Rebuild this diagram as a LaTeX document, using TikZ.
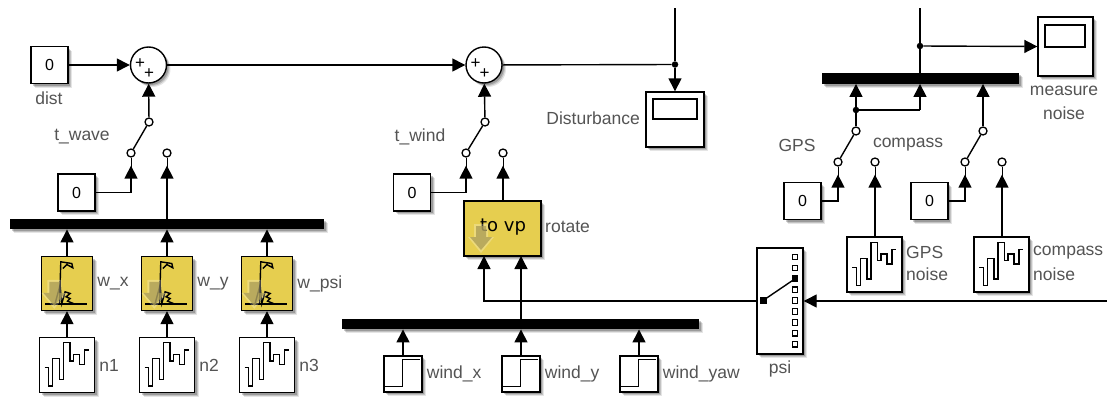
\documentclass[tikz,border=0pt]{standalone}
\usepackage{fontspec}
\setmainfont{Liberation Sans}
\newfontfamily\blockfont{DejaVu Sans}
\usetikzlibrary{arrows.meta,shadows}
\definecolor{labelgray}{gray}{0.33}
\definecolor{blockyellow}{HTML}{E6CE4F}
\definecolor{ghostkhaki}{HTML}{A89A55}
\tikzset{
  soft/.style={
    general shadow={shadow xshift=4pt,shadow yshift=-4pt,fill=black,opacity=.10},
    general shadow={shadow xshift=3pt,shadow yshift=-3pt,fill=black,opacity=.15},
    general shadow={shadow xshift=2pt,shadow yshift=-2pt,fill=black,opacity=.20}},
  blk/.style={draw=black,line width=1.4pt,fill=white,rectangle,inner sep=0pt,soft},
  const/.style={blk,minimum width=37pt,minimum height=37pt,font=\fontsize{16}{16}\selectfont},
  noise/.style={blk,minimum width=55pt,minimum height=55pt},
  filt/.style={blk,fill=blockyellow,minimum width=51pt,minimum height=54pt},
  stepblk/.style={blk,minimum width=38pt,minimum height=36pt},
  busbar/.style={draw=none,fill=black,rectangle,inner sep=0pt,minimum height=10.5pt,soft},
  sumblk/.style={circle,draw=black,line width=1.4pt,fill=white,minimum size=36pt,inner sep=0pt,soft},
  plus/.style={inner sep=0pt,font=\fontsize{17}{17}\selectfont},
  contact/.style={circle,draw=black,line width=1.3pt,fill=white,minimum size=8pt,inner sep=0pt},
  junct/.style={circle,fill=black,minimum size=6.5pt,inner sep=0pt},
  port/.style={rectangle,draw=black,line width=1.2pt,fill=white,minimum width=4.5pt,minimum height=5.5pt,inner sep=0pt},
  screen/.style={rectangle,draw=black,line width=1.3pt,fill=white,inner sep=0pt},
  lbl/.style={text=labelgray,inner sep=0pt,font=\fontsize{17.5}{20}\selectfont},
  wire/.style={draw=black,line width=1.4pt},
  arr/.style={wire,-{Triangle[length=13pt,width=13pt]}},
  stubarr/.style={arr,shorten >=8pt,preaction={draw,-,shorten >=0pt}},
  noiseicon/.pic={
    \draw[line width=1.3pt,line join=miter] (5.7,31)--(10,31)--(10,49.3)--(14,49.3)--(14,22)--(20.7,22)--(20.7,42.7)--(24.7,42.7)--(24.7,6)--(31.3,6)--(31.3,24.3)--(34.7,24.3)--(34.7,17.7)--(40.7,17.7)--(40.7,27.7)--(45.7,27.7)--(45.7,13.3)--(50,13.3);
  },
  stepicon/.pic={
    \draw[line width=1.4pt] (1,31)--(19,31)--(19,4)--(37,4);
  },
  ghostarrow/.pic={
    \fill[white,opacity=.25] (-7,-2)--(7,-2)--(7,11)--(13,11)--(0,27)--(-13,11)--(-7,11)--cycle;
    \fill[ghostkhaki,opacity=.75] (-5,0)--(5,0)--(5,11)--(11,11)--(0,24)--(-11,11)--(-5,11)--cycle;
  },
  filticon/.pic={
    \draw[line width=1.4pt] (4.3,48.3)--(46,48.3);
    \draw[line width=1.4pt] (18.7,47.7)--(20,6)--(31,7.7)--(32,12)--(26,8.7)--(22,12.7);
    \draw[line width=1.4pt] (14.3,47.7)--(19.3,29.3)--(21,47.7)--(24.3,36)--(29.3,37.7)--(25.3,41)--(29.3,42.7)--(26.7,45.3)--(32.7,47.7);
    \pic at (13.5,26) {ghostarrow};
  }
}
\begin{document}
\begin{tikzpicture}[x=1pt,y=-1pt]
\useasboundingbox (0,0) rectangle (1107,399);
\fill[white] (0,0) rectangle (1107,399);

% free ends
\coordinate (topA) at (675,8);
\coordinate (topB) at (920,8);
\coordinate (rightEnd) at (1107,301);

% --- left group
\node[const] (dist) at (49.5,65) {0};
\node[lbl] (distL) at (49,98) {dist};
\node[sumblk] (sum1) at (148.5,65) {};
\node[plus] (p1a) at (140,64) {+};
\node[plus] (p1b) at (149,74) {+};
\node[contact] (s1t) at (149,122) {};
\node[contact] (s1a) at (131,153) {};
\node[contact] (s1b) at (167,153) {};
\node[lbl] (s1L) at (82,137) {t\_wave};
\node[const] (c1) at (76.5,192.5) {0};
\node[busbar,minimum width=314pt] (bus1) at (167,224) {};
\foreach \n/\f/\x/\t in {n1/wx/67/w\_x,n2/wy/167/w\_y,n3/wpsi/267/w\_psi}{
  \node[filt] (\f) at (\x,283.5) {};
  \pic at (\f.north west) {filticon};
  \node[lbl,anchor=west] (\f L) at ([xshift=4pt]\f.east) {\t};
  \node[noise] (\n) at (\x,365) {};
  \pic at (\n.north west) {noiseicon};
  \node[lbl,anchor=west] (\n L) at ([xshift=4pt]\n.east) {\n};
  \draw[arr] (\n.north) -- (\f.south);
  \draw[arr] (\f.north) -- (\f.north |- bus1.south);
}
\draw[arr] (dist) -- (sum1);
\draw[arr] (s1t) -- (sum1);
\draw[wire] (s1a) -- (s1t);
\draw[stubarr] (c1.east) -| (s1a.south);
\draw[stubarr] (s1b.south |- bus1.north) -- (s1b.south);

% --- middle group
\node[sumblk] (sum2) at (484,65) {};
\node[plus] (p2a) at (475.5,64) {+};
\node[plus] (p2b) at (484.5,74) {+};
\node[junct] (j1) at (675,64.5) {};
\node[blk,minimum width=58pt,minimum height=55pt] (scope1) at (675,119.5) {};
\node[screen,minimum width=44pt,minimum height=20pt] (scr1) at (675,109) {};
\node[lbl,anchor=east] (scope1L) at (640,118) {Disturbance};
\node[contact] (s2t) at (485,122) {};
\node[contact] (s2a) at (466,153) {};
\node[contact] (s2b) at (503,153) {};
\node[lbl] (s2L) at (420,137) {t\_wind};
\node[const] (c2) at (412,192.5) {0};
\node[blk,fill=blockyellow,minimum width=77pt,minimum height=55pt] (rot) at (502.5,228.5) {};
\node[inner sep=0pt,font=\blockfont\fontsize{18}{18}\selectfont] (rotT) at (503,227) {to vp};
\pic at (481,226) {ghostarrow};
\node[lbl,anchor=west] (rotL) at (545,227) {rotate};
\coordinate (rotIn1) at (484,256);
\coordinate (rotIn2) at (521,256);
\node[busbar,minimum width=357pt] (bus2) at (520.5,324) {};
\foreach \n/\x/\t in {wx/403/wind\_x,wy/521/wind\_y,wyaw/639/wind\_yaw}{
  \node[stepblk] (\n) at (\x,374) {};
  \pic at (\n.north west) {stepicon};
  \node[lbl,anchor=west] (\n L) at ([xshift=4pt]\n.east) {\t};
  \draw[arr] (\n.north) -- (\n.north |- bus2.south);
}
\draw[arr] (sum1) -- (sum2);
\draw[wire] (sum2) -- (j1);
\draw[wire] (topA) -- (j1);
\draw[arr] (j1) -- (scope1.north);
\draw[arr] (s2t) -- (sum2);
\draw[wire] (s2a) -- (s2t);
\draw[stubarr] (c2.east) -| (s2a.south);
\draw[stubarr] (s2b.south |- rot.north) -- (s2b.south);
\draw[arr] (rotIn2 |- bus2.north) -- (rotIn2);

% --- psi selector
\node[blk,minimum width=46pt,minimum height=106pt] (psi) at (780,301) {};
\node[lbl] (psiL) at (780,369) {psi};
\foreach \i in {0,...,8}{
  \node[port] (q\i) at (795,{257+10.9*\i}) {};
}
\node[port,fill=black] (q2b) at (q2) {};
\node[rectangle,fill=black,minimum size=7pt,inner sep=0pt] (sel) at (763,300.5) {};
\draw[wire] (sel) -- (q2b);
\draw[arr] (rightEnd) -- (psi.east);
\draw[arr] (psi.west) -| (rotIn1);

% --- right group
\node[busbar,minimum width=197pt] (bus3) at (920.5,78.5) {};
\node[junct] (j2) at (920,46) {};
\node[blk,minimum width=55pt,minimum height=59pt] (scope2) at (1065.5,46.5) {};
\node[screen,minimum width=40pt,minimum height=22pt] (scr2) at (1065,36) {};
\node[lbl] (scope2La) at (1064,91) {measure};
\node[lbl] (scope2Lb) at (1064,113) {noise};
\draw[wire] (topB) -- (bus3.north -| topB);
\draw[arr] (j2) -- (scope2.west);

\node[contact] (s3t) at (856,131) {};
\node[contact] (s3a) at (838,162) {};
\node[contact] (s3b) at (875,162) {};
\node[contact] (s4t) at (983,131) {};
\node[contact] (s4a) at (965,162) {};
\node[contact] (s4b) at (1002,162) {};
\node[junct] (j3) at (856,110) {};
\node[lbl] (s3L) at (797,145) {GPS};
\node[lbl] (s4L) at (908,145) {compass};
\node[const] (c3) at (802.5,201) {0};
\node[const] (c4) at (929.5,201) {0};
\node[noise] (gn) at (874.5,264.5) {};
\pic at (gn.north west) {noiseicon};
\node[noise] (cn) at (1001.5,264.5) {};
\pic at (cn.north west) {noiseicon};
\node[lbl,anchor=west] (gnLa) at (906,252.5) {GPS};
\node[lbl,anchor=west] (gnLb) at (906,274.5) {noise};
\node[lbl,anchor=west] (cnLa) at (1033,252.5) {compass};
\node[lbl,anchor=west] (cnLb) at (1033,274.5) {noise};
\coordinate (busIn2) at (920,110);
\draw[arr] (s3t) -- (s3t |- bus3.south);
\draw[wire] (j3) -- (busIn2);
\draw[arr] (busIn2) -- (busIn2 |- bus3.south);
\draw[arr] (s4t) -- (s4t |- bus3.south);
\draw[wire] (s3a) -- (s3t);
\draw[wire] (s4a) -- (s4t);
\draw[stubarr] (c3.east) -| (s3a.south);
\draw[stubarr] (c4.east) -| (s4a.south);
\draw[stubarr] (s3b.south |- gn.north) -- (s3b.south);
\draw[stubarr] (s4b.south |- cn.north) -- (s4b.south);
\end{tikzpicture}
\end{document}
